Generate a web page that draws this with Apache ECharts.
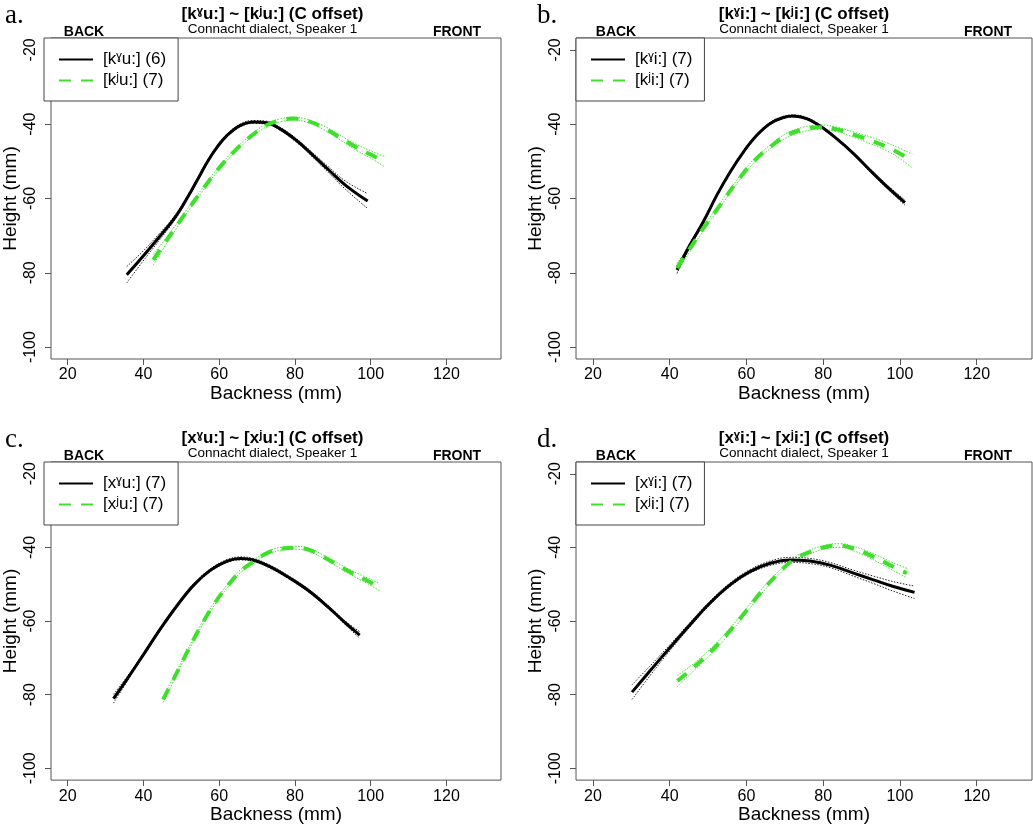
<!DOCTYPE html>
<html>
<head>
<meta charset="utf-8">
<script src="https://cdn.jsdelivr.net/npm/echarts@6/dist/echarts.min.js"></script>
<style>html,body{margin:0;padding:0;background:#fff}#c{width:1033px;height:825px}</style>
</head>
<body>
<div id="c"></div>
<script>
// ---------- data ----------
const xTicks = [20, 40, 60, 80, 100, 120];
const yTicks = [-100, -80, -60, -40, -20];
const panelLetters = ['a.', 'b.', 'c.', 'd.'];
const panelTitles = ['[kˠu:] ~ [kʲu:] (C offset)', '[kˠi:] ~ [kʲi:] (C offset)', '[xˠu:] ~ [xʲu:] (C offset)', '[xˠi:] ~ [xʲi:] (C offset)'];
const subTitle = 'Connacht dialect, Speaker 1';
const blackNames = ['[kˠu:] (6)', '[kˠi:] (7)', '[xˠu:] (7)', '[xˠi:] (7)'];
const greenNames = ['[kʲu:] (7)', '[kʲi:] (7)', '[xʲu:] (7)', '[xʲi:] (7)'];

// panel a
const aBlackX = [35.6, 39.5, 43.9, 48.2, 51.7, 54.3, 56.9, 59.5, 62.1, 65.6, 69.0, 72.5, 76.0, 80.3, 84.7, 89.0, 93.3, 99.2];
const aBlackY = [-80.5, -76.0, -70.7, -65.3, -59.6, -54.9, -50.1, -46.1, -43.0, -40.3, -39.4, -39.6, -41.2, -44.3, -48.3, -52.4, -56.4, -60.7];
const aBlackSE = [2.2, 1.4, 0.9, 0.6, 0.5, 0.4, 0.4, 0.4, 0.4, 0.4, 0.4, 0.4, 0.4, 0.5, 0.6, 0.8, 1.1, 2.0];
const aGreenX = [42.6, 46.5, 50.8, 55.2, 59.5, 63.8, 68.2, 72.5, 76.0, 79.5, 82.9, 87.3, 91.6, 96.0, 100.3, 103.7];
const aGreenY = [-76.5, -70.7, -64.4, -58.2, -52.4, -47.5, -43.4, -40.3, -39.0, -38.5, -39.0, -40.8, -43.4, -46.1, -48.3, -50.1];
const aGreenSE = [1.4, 0.8, 0.5, 0.4, 0.4, 0.4, 0.4, 0.4, 0.4, 0.4, 0.4, 0.5, 0.6, 0.8, 1.0, 1.4];
// panel b
const bBlackX = [41.9, 45.3, 48.8, 52.3, 55.8, 59.2, 62.7, 66.2, 69.6, 72.2, 75.7, 79.2, 83.5, 87.9, 92.2, 96.6, 101.3];
const bBlackY = [-79.2, -72.5, -66.2, -59.1, -52.8, -47.5, -43.0, -39.8, -38.2, -37.8, -38.5, -40.5, -43.9, -47.9, -52.4, -56.8, -61.1];
const bBlackSE = [1.0, 0.6, 0.4, 0.3, 0.3, 0.3, 0.3, 0.3, 0.3, 0.3, 0.3, 0.3, 0.3, 0.3, 0.4, 0.5, 0.7];
const bGreenX = [41.9, 45.3, 48.8, 53.2, 57.5, 61.8, 66.2, 70.5, 74.8, 79.2, 83.5, 87.9, 92.2, 96.6, 100.0, 103.2];
const bGreenY = [-78.7, -73.4, -68.0, -61.7, -55.5, -50.1, -46.1, -43.0, -41.4, -40.8, -41.4, -42.8, -44.3, -46.1, -47.9, -49.9];
const bGreenSE = [1.2, 0.8, 0.6, 0.5, 0.5, 0.5, 0.5, 0.6, 0.6, 0.6, 0.6, 0.7, 0.9, 1.1, 1.4, 1.8];
// panel c
const cBlackX = [32.1, 36.0, 40.4, 44.7, 49.1, 53.4, 57.8, 62.1, 65.6, 69.0, 73.4, 78.6, 83.8, 89.0, 93.3, 97.1];
const cBlackY = [-81.1, -75.3, -68.5, -61.8, -55.5, -50.1, -46.1, -43.7, -43.0, -43.4, -45.2, -48.3, -51.9, -56.4, -60.5, -63.8];
const cBlackSE = [1.2, 0.6, 0.4, 0.4, 0.4, 0.4, 0.4, 0.4, 0.4, 0.4, 0.4, 0.4, 0.4, 0.4, 0.5, 0.9];
const cGreenX = [45.2, 48.2, 51.7, 55.2, 58.6, 62.1, 65.6, 69.0, 72.5, 76.8, 80.3, 83.8, 89.0, 94.2, 99.4, 102.4];
const cGreenY = [-81.3, -75.3, -68.1, -61.3, -55.5, -50.6, -46.5, -43.9, -41.6, -40.3, -40.1, -40.7, -43.4, -46.5, -49.2, -50.8];
const cGreenSE = [0.8, 0.5, 0.4, 0.4, 0.4, 0.4, 0.4, 0.4, 0.4, 0.4, 0.4, 0.4, 0.5, 0.6, 0.8, 1.0];
// panel d
const dBlackX = [30.2, 34.9, 40.1, 45.3, 50.5, 55.8, 61.0, 66.2, 71.4, 76.6, 81.8, 87.9, 93.1, 98.3, 103.8];
const dBlackY = [-79.3, -73.5, -67.2, -61.0, -55.1, -50.1, -46.5, -44.3, -43.4, -43.7, -44.8, -47.0, -48.8, -50.6, -52.2];
const dBlackSE = [2.0, 1.3, 0.8, 0.6, 0.5, 0.5, 0.5, 0.6, 0.7, 0.7, 0.7, 0.8, 1.0, 1.3, 1.7];
const dGreenX = [42.0, 46.2, 50.5, 54.9, 59.2, 63.6, 67.9, 72.2, 76.6, 80.9, 84.4, 87.9, 92.2, 97.4, 101.8];
const dGreenY = [-76.3, -72.6, -68.5, -63.6, -58.2, -52.4, -47.5, -43.4, -41.2, -39.8, -39.5, -40.3, -42.1, -44.8, -47.0];
const dGreenSE = [1.5, 1.0, 0.8, 0.7, 0.6, 0.6, 0.5, 0.5, 0.5, 0.5, 0.5, 0.6, 0.8, 1.0, 1.3];

// ---------- layout ----------
const SANS = '"Liberation Sans", Arial, "DejaVu Sans", sans-serif';
const SERIF = '"Liberation Serif", "DejaVu Serif", serif';
const GREEN = '#3fe02c';
const grids = [
  {left: 44, top: 38, width: 457, height: 321},
  {left: 576, top: 38, width: 456, height: 321},
  {left: 44, top: 462, width: 457, height: 322},
  {left: 576, top: 462, width: 456, height: 322}
];
const panelData = [
  [aBlackX, aBlackY, aBlackSE, aGreenX, aGreenY, aGreenSE],
  [bBlackX, bBlackY, bBlackSE, bGreenX, bGreenY, bGreenSE],
  [cBlackX, cBlackY, cBlackSE, cGreenX, cGreenY, cGreenSE],
  [dBlackX, dBlackY, dBlackSE, dGreenX, dGreenY, dGreenSE]
];
const X_MIN = 15.6, X_MAX = 134.4, Y_MIN = -103.2, Y_MAX = -16.8;

const zip = (xs, ys, se, k) => xs.map((x, i) => [x, ys[i] + (se ? k * se[i] : 0)]);

const xAxes = [], yAxes = [], series = [], legends = [], graphics = [];
grids.forEach((g, i) => {
  xAxes.push({
    gridIndex: i, type: 'value', min: X_MIN, max: X_MAX,
    name: 'Backness (mm)', nameLocation: 'middle', nameGap: 22,
    nameTextStyle: {fontFamily: SANS, fontSize: 19, color: '#000', verticalAlign: 'top'},
    axisLine: {show: false}, splitLine: {show: false},
    axisTick: {show: true, inside: false, length: 6, customValues: xTicks, lineStyle: {color: '#555'}},
    axisLabel: {customValues: xTicks, margin: 8, fontFamily: SANS, fontSize: 16, color: '#000'}
  });
  yAxes.push({
    gridIndex: i, type: 'value', min: Y_MIN, max: Y_MAX,
    name: 'Height (mm)', nameLocation: 'middle', nameGap: 31,
    nameTextStyle: {fontFamily: SANS, fontSize: 19, color: '#000'},
    axisLine: {show: false}, splitLine: {show: false},
    axisTick: {show: true, inside: false, length: 6, customValues: yTicks, lineStyle: {color: '#555'}},
    axisLabel: {customValues: yTicks, rotate: 90, margin: 12, fontFamily: SANS, fontSize: 16, color: '#000'}
  });
  const [bx, by, bse, gx, gy, gse] = panelData[i];
  const base = {type: 'line', xAxisIndex: i, yAxisIndex: i, smooth: 0.4, symbol: 'none', silent: true, animation: false};
  const dotted = [1.5, 1.5];
  series.push(Object.assign({}, base, {name: 'bu' + i, data: zip(bx, by, bse, 1), lineStyle: {color: '#222', width: 1, type: dotted}, z: 2}));
  series.push(Object.assign({}, base, {name: 'bl' + i, data: zip(bx, by, bse, -1), lineStyle: {color: '#222', width: 1, type: dotted}, z: 2}));
  series.push(Object.assign({}, base, {name: 'gu' + i, data: zip(gx, gy, gse, 1), lineStyle: {color: GREEN, width: 1, type: dotted}, z: 2}));
  series.push(Object.assign({}, base, {name: 'gl' + i, data: zip(gx, gy, gse, -1), lineStyle: {color: GREEN, width: 1, type: dotted}, z: 2}));
  series.push(Object.assign({}, base, {name: blackNames[i], data: zip(bx, by), itemStyle: {color: '#000'}, lineStyle: {color: '#000', width: 3}, z: 3}));
  series.push(Object.assign({}, base, {name: greenNames[i], data: zip(gx, gy), itemStyle: {color: GREEN}, lineStyle: {color: GREEN, width: 4, type: [12, 10]}, z: 4}));

  legends.push({
    data: [blackNames[i], greenNames[i]], orient: 'vertical', left: g.left, top: g.top,
    padding: [13, 12, 12, 14], itemWidth: 34, itemHeight: 14, itemGap: 4,
    borderColor: '#444', borderWidth: 1, backgroundColor: '#fff', selectedMode: false,
    itemStyle: {color: 'rgba(0,0,0,0)', borderColor: 'rgba(0,0,0,0)', borderWidth: 0},
    textStyle: {fontFamily: SANS, fontSize: 17, color: '#000', padding: [0, 0, 0, 5]}
  });

  const cx = g.left + g.width / 2;
  const topY = g.top;
  graphics.push({type: 'text', x: cx, y: topY - 24, style: {text: panelTitles[i], align: 'center', verticalAlign: 'middle', fontFamily: SANS, fontSize: 17, fontWeight: 'bold', fill: '#000'}});
  graphics.push({type: 'text', x: cx, y: topY - 9, style: {text: subTitle, align: 'center', verticalAlign: 'middle', fontFamily: SANS, fontSize: 13.5, fill: '#000'}});
  graphics.push({type: 'text', x: g.left + 40, y: topY - 6, style: {text: 'BACK', align: 'center', verticalAlign: 'middle', fontFamily: SANS, fontSize: 14, fontWeight: 'bold', fill: '#000'}});
  graphics.push({type: 'text', x: g.left + g.width - 44, y: topY - 6, style: {text: 'FRONT', align: 'center', verticalAlign: 'middle', fontFamily: SANS, fontSize: 14, fontWeight: 'bold', fill: '#000'}});
  graphics.push({type: 'text', x: g.left - 39, y: topY - 22, style: {text: panelLetters[i], align: 'left', verticalAlign: 'middle', fontFamily: SERIF, fontSize: 27, fill: '#000'}});
});

const chart = echarts.init(document.getElementById('c'), null, {renderer: 'canvas'});
chart.setOption({
  animation: false,
  backgroundColor: '#fff',
  grid: grids.map(g => Object.assign({show: true, borderColor: '#555', borderWidth: 1, backgroundColor: 'transparent', containLabel: false}, g)),
  xAxis: xAxes,
  yAxis: yAxes,
  legend: legends,
  series: series,
  graphic: graphics
});
</script>
</body>
</html>
